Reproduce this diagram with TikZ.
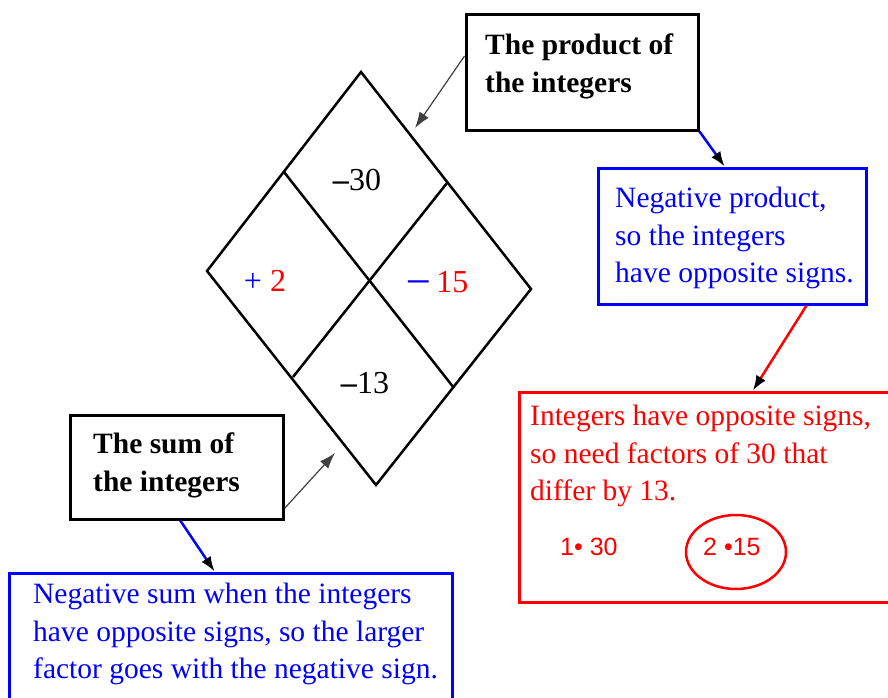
\documentclass[tikz,border=0pt]{standalone}
\usepackage{fontspec}
\setmainfont{Liberation Serif}
\newfontfamily\factorfont{Liberation Sans}
\usetikzlibrary{arrows.meta, shapes.geometric, positioning}

\begin{document}
\begin{tikzpicture}[
  x=1pt, y=-1pt,
  font=\fontsize{29.5}{37.5}\selectfont,
  box/.style={draw, line width=3pt, inner sep=0pt},
  txt/.style={anchor=north west, inner sep=0pt, align=left},
  num/.style={anchor=base, inner sep=0pt, font=\fontsize{32}{36}\selectfont},
  grid/.style={line width=2.5pt, line join=miter},
  thinarr/.style={-{Latex[length=16pt, width=11pt]}, line width=1.2pt, black!75},
  colarr/.style={-{Latex[length=15pt, width=11pt, black]}, line width=2.5pt}
]
\useasboundingbox (0,0) rectangle (888,698);

% diamond
\coordinate (top) at (361,72);
\coordinate (rgt) at (531,289);
\coordinate (bot) at (376,485);
\coordinate (lft) at (207,271);
\draw[grid] (top) -- (rgt) -- (bot) -- (lft) -- cycle;
\draw[grid] (284,172) -- (454,388);
\draw[grid] (447,183) -- (293,377);
\node[num] (prodnum) at (357,190) {\textbf{–}30};
\node[num] (leftnum) at (265,291) {\textcolor{blue}{+} \textcolor{red}{2}};
\node[num] (rightnum) at (437,292)
  {\textcolor{blue}{\scalebox{1.4}[1]{\bfseries −}}\,\textcolor{red}{15}};
\node[num] (sumnum) at (365,393) {\textbf{–}13};

% boxes
\node[box, minimum width=232, minimum height=115] (prod) at (582,72.5) {};
\node[txt, font=\fontsize{29.5}{37.5}\selectfont\bfseries] (prodtxt) at (485,34)
  {The product of\\the integers};
\node[box, draw=blue, minimum width=268, minimum height=136] (negprod) at (732,236) {};
\node[txt, text=blue] (negprodtxt) at (615,187)
  {Negative product,\\so the integers\\have opposite signs.};
\node[box, draw=red, minimum width=373, minimum height=210] (pairs) at (705.5,497) {};
\node[txt, text=red] (pairstxt) at (530,405)
  {Integers have opposite signs,\\so need factors of 30 that\\differ by 13.};
\node[num, anchor=base west, text=red, font=\factorfont\fontsize{25}{30}\selectfont]
  (pairone) at (560,555) {1• 30};
\node[num, anchor=base west, text=red, font=\factorfont\fontsize{25}{30}\selectfont]
  (pairtwo) at (703,555) {2 •15};
\node[draw=red, line width=2.5pt, ellipse, minimum width=100, minimum height=74,
  inner sep=0pt] (pick) at (736,552) {};
\node[box, minimum width=213, minimum height=104] (sum) at (176.5,467) {};
\node[txt, font=\fontsize{29.5}{37.5}\selectfont\bfseries] (sumtxt) at (93,433)
  {The sum of\\the integers};
\node[box, draw=blue, minimum width=443, minimum height=135] (negsum) at (230.5,640.5) {};
\node[txt, text=blue] (negsumtxt) at (33,583)
  {Negative sum when the integers\\have opposite signs, so the larger\\factor goes with the negative sign.};

% connectors
\coordinate (prodtip) at (415,128);
\coordinate (sumtip) at (335,453);
\draw[thinarr] (prod.172) -- (prodtip);
\draw[thinarr] (sum.-21) -- (sumtip);
\draw[colarr, blue] (prod.south east) -- (negprod.96);
\draw[colarr, red] (negprod.-43) -- (pairs.66);
\draw[colarr, blue] (sum.-86) -- (negsum.103);
\end{tikzpicture}
\end{document}
